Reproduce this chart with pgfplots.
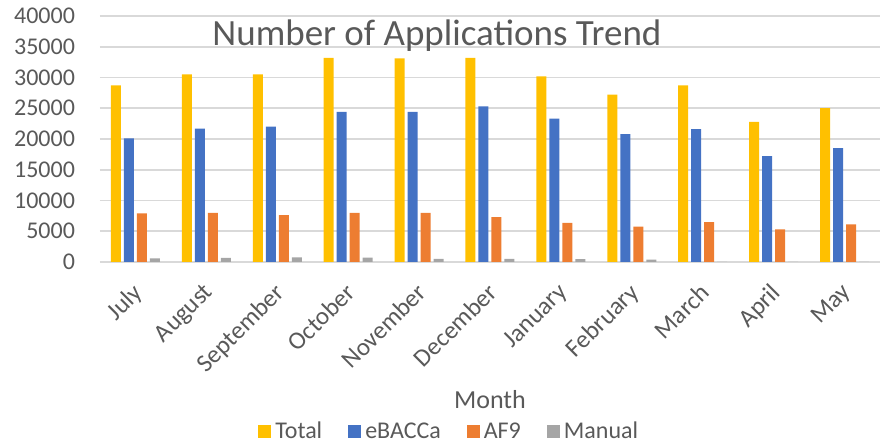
\documentclass[border=0pt]{standalone}
\usepackage{pgfplots}
\pgfplotsset{compat=1.18}
\usepackage{fontspec}
\setmainfont{Carlito}
\definecolor{cTotal}{HTML}{FFC000}
\definecolor{cEB}{HTML}{4472C4}
\definecolor{cAF}{HTML}{ED7D31}
\definecolor{cMan}{HTML}{A5A5A5}
\definecolor{textc}{HTML}{595959}
\definecolor{gridc}{HTML}{D9D9D9}
\begin{document}
\begin{tikzpicture}
\useasboundingbox (0,0) rectangle (442.5pt,221pt);
\begin{axis}[
  at={(50pt,90pt)}, anchor=south west,
  scale only axis, width=390pt, height=123pt,
  xmin=-0.5, xmax=10.5, ymin=0, ymax=40000,
  ybar=1.5pt, bar width=5pt,
  xtick={0,1,2,3,4,5,6,7,8,9,10},
  xticklabels={July,August,September,October,November,December,January,February,March,April,May},
  ytick={0,5000,10000,15000,20000,25000,30000,35000,40000},
  scaled y ticks=false,
  /pgf/number format/assume math mode=true,
  /pgf/number format/set thousands separator={},
  ymajorgrids, grid style={color=gridc, line width=0.8pt},
  axis line style={draw=none},
  major tick length=0pt,
  yticklabel style={font=\fontsize{12}{14}\selectfont, text=textc, anchor=east, xshift=-9pt},
  xticklabel style={font=\fontsize{12.5}{14}\selectfont, text=textc, yshift=-5pt, xshift=-2pt, rotate=45, anchor=north east},
  every axis title shift=0pt,
  title={Number of Applications Trend},
  title style={at={(axis description cs:0.432,0.882)}, anchor=base, font=\fontsize{18.5}{22}\selectfont, text=textc},
  xlabel={Month},
  xlabel style={at={(axis description cs:0.5,-0.561)}, anchor=center, font=\fontsize{13}{15}\selectfont, text=textc},
  legend style={at={(axis description cs:0.449,-0.691)}, anchor=center, draw=none, fill=none,
    legend columns=4, font=\fontsize{12}{14}\selectfont, text=textc,
    /tikz/every even column/.append style={column sep=11pt}},
  legend image code/.code={\fill[#1] (0pt,-3.25pt) rectangle (6.5pt,3.25pt);},
]
\addplot[fill=cTotal, draw=none] coordinates {(0,28700) (1,30500) (2,30500) (3,33200) (4,33100) (5,33200) (6,30200) (7,27200) (8,28700) (9,22800) (10,25000)};
\addplot[fill=cEB, draw=none] coordinates {(0,20100) (1,21700) (2,22000) (3,24400) (4,24400) (5,25300) (6,23300) (7,20800) (8,21600) (9,17200) (10,18500)};
\addplot[fill=cAF, draw=none] coordinates {(0,7900) (1,8000) (2,7600) (3,8000) (4,8000) (5,7300) (6,6350) (7,5750) (8,6500) (9,5300) (10,6100)};
\addplot[fill=cMan, draw=none] coordinates {(0,600) (1,650) (2,760) (3,700) (4,500) (5,500) (6,450) (7,400) (8,0) (9,0) (10,0)};
\legend{Total,eBACCa,AF9,Manual}
\end{axis}
\end{tikzpicture}
\end{document}
